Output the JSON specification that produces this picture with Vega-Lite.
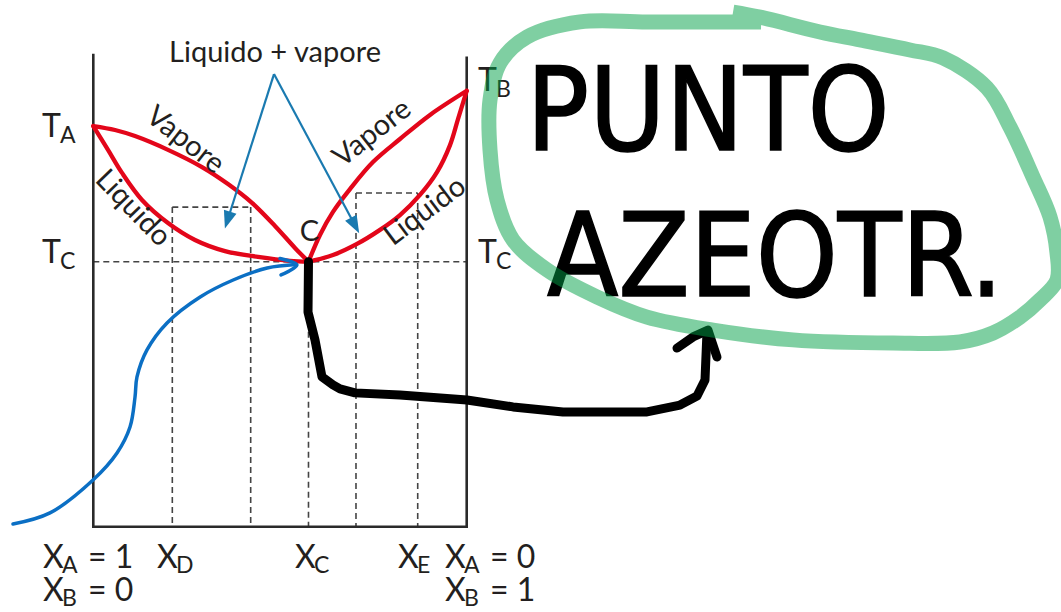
{
  "$schema": "https://vega.github.io/schema/vega-lite/v6.json",
  "width": 1061,
  "height": 612,
  "padding": 0,
  "autosize": {"type": "none"},
  "background": "white",
  "config": {"view": {"stroke": null}},
  "encoding": {
    "x": {"field": "xB", "type": "quantitative", "scale": {"domain": [-0.24987, 2.59159], "nice": false, "zero": false}, "axis": null},
    "y": {"field": "T", "type": "quantitative", "scale": {"domain": [-32.189, 198.755], "nice": false, "zero": false}, "axis": null}
  },
  "layer": [
    {
      "description": "dashed guide lines: T_C isotherm, tie lines and composition drops",
      "data": {"values": [
        {"xB": 0, "T": 100, "xB2": 1, "T2": 100},
        {"xB": 0.2116, "T": 120.6, "xB2": 0.4215, "T2": 120.6},
        {"xB": 0.7035, "T": 125.9, "xB2": 0.8688, "T2": 125.9},
        {"xB": 0.2116, "T": 120.6, "xB2": 0.2116, "T2": 0},
        {"xB": 0.4215, "T": 120.6, "xB2": 0.4215, "T2": 0},
        {"xB": 0.5763, "T": 100, "xB2": 0.5763, "T2": 0},
        {"xB": 0.7035, "T": 125.9, "xB2": 0.7035, "T2": 0},
        {"xB": 0.8688, "T": 125.9, "xB2": 0.8688, "T2": 0}
      ]},
      "mark": {"type": "rule", "color": "#444444", "strokeWidth": 1.6, "strokeDash": [6, 4]},
      "encoding": {"x2": {"field": "xB2"}, "y2": {"field": "T2"}}
    },
    {
      "description": "diagram frame",
      "data": {"values": [
        {"xB": 0, "T": 178, "xB2": 0, "T2": 0},
        {"xB": 1, "T": 176.9, "xB2": 1, "T2": 0},
        {"xB": 0, "T": 0, "xB2": 1, "T2": 0}
      ]},
      "mark": {"type": "rule", "color": "#2a2a2a", "strokeWidth": 2.6, "strokeCap": "square"},
      "encoding": {"x2": {"field": "xB2"}, "y2": {"field": "T2"}}
    },
    {
      "description": "liquid and vapour boundaries of the two lenses",
      "data": {"values": [
        {"curve": "vapA", "i": 0, "xB": 0, "T": 151.2},
        {"curve": "vapA", "i": 1, "xB": 0.0581, "T": 149.7},
        {"curve": "vapA", "i": 2, "xB": 0.1117, "T": 147.4},
        {"curve": "vapA", "i": 3, "xB": 0.2001, "T": 142.2},
        {"curve": "vapA", "i": 4, "xB": 0.2911, "T": 135.7},
        {"curve": "vapA", "i": 5, "xB": 0.3607, "T": 129.3},
        {"curve": "vapA", "i": 6, "xB": 0.425, "T": 122.2},
        {"curve": "vapA", "i": 7, "xB": 0.4866, "T": 113.5},
        {"curve": "vapA", "i": 8, "xB": 0.5401, "T": 105.2},
        {"curve": "vapA", "i": 9, "xB": 0.5763, "T": 100},
        {"curve": "liqA", "i": 0, "xB": 0, "T": 151.2},
        {"curve": "liqA", "i": 1, "xB": 0.0394, "T": 142.2},
        {"curve": "liqA", "i": 2, "xB": 0.0769, "T": 133.5},
        {"curve": "liqA", "i": 3, "xB": 0.1304, "T": 123.3},
        {"curve": "liqA", "i": 4, "xB": 0.2001, "T": 114.6},
        {"curve": "liqA", "i": 5, "xB": 0.2724, "T": 108.2},
        {"curve": "liqA", "i": 6, "xB": 0.3527, "T": 104.0},
        {"curve": "liqA", "i": 7, "xB": 0.4411, "T": 101.8},
        {"curve": "liqA", "i": 8, "xB": 0.5268, "T": 100.3},
        {"curve": "liqA", "i": 9, "xB": 0.5763, "T": 100},
        {"curve": "vapB", "i": 0, "xB": 0.5763, "T": 100},
        {"curve": "vapB", "i": 1, "xB": 0.6071, "T": 110.1},
        {"curve": "vapB", "i": 2, "xB": 0.6419, "T": 118.8},
        {"curve": "vapB", "i": 3, "xB": 0.6874, "T": 127.4},
        {"curve": "vapB", "i": 4, "xB": 0.749, "T": 137.6},
        {"curve": "vapB", "i": 5, "xB": 0.8213, "T": 146.3},
        {"curve": "vapB", "i": 6, "xB": 0.9017, "T": 155.4},
        {"curve": "vapB", "i": 7, "xB": 1, "T": 164.5},
        {"curve": "liqB", "i": 0, "xB": 0.5763, "T": 100},
        {"curve": "liqB", "i": 1, "xB": 0.6419, "T": 102.5},
        {"curve": "liqB", "i": 2, "xB": 0.7062, "T": 106.7},
        {"curve": "liqB", "i": 3, "xB": 0.7678, "T": 112.0},
        {"curve": "liqB", "i": 4, "xB": 0.8214, "T": 117.6},
        {"curve": "liqB", "i": 5, "xB": 0.8749, "T": 125.2},
        {"curve": "liqB", "i": 6, "xB": 0.9205, "T": 133.8},
        {"curve": "liqB", "i": 7, "xB": 0.9553, "T": 144.0},
        {"curve": "liqB", "i": 8, "xB": 0.9767, "T": 153.8},
        {"curve": "liqB", "i": 9, "xB": 1, "T": 164.5}
      ]},
      "mark": {"type": "line", "color": "#e3061a", "strokeWidth": 4.3, "interpolate": "catmull-rom", "strokeCap": "round"},
      "encoding": {"detail": {"field": "curve"}, "order": {"field": "i", "type": "quantitative"}}
    },
    {
      "description": "blue S-shaped pointer to the azeotrope",
      "data": {"values": [
        {"seg": "s", "i": 0, "xB": -0.215, "T": 1.0},
        {"seg": "s", "i": 1, "xB": -0.116, "T": 5.2},
        {"seg": "s", "i": 2, "xB": -0.0008, "T": 17.6},
        {"seg": "s", "i": 3, "xB": 0.0635, "T": 27.8},
        {"seg": "s", "i": 4, "xB": 0.0983, "T": 37.6},
        {"seg": "s", "i": 5, "xB": 0.1117, "T": 48.9},
        {"seg": "s", "i": 6, "xB": 0.117, "T": 56.5},
        {"seg": "s", "i": 7, "xB": 0.1438, "T": 66.7},
        {"seg": "s", "i": 8, "xB": 0.1974, "T": 76.9},
        {"seg": "s", "i": 9, "xB": 0.2862, "T": 86.7},
        {"seg": "s", "i": 10, "xB": 0.3746, "T": 93.1},
        {"seg": "s", "i": 11, "xB": 0.4657, "T": 97.6},
        {"seg": "s", "i": 12, "xB": 0.5429, "T": 98.9},
        {"seg": "head", "i": 0, "xB": 0.5, "T": 101.2},
        {"seg": "head", "i": 1, "xB": 0.5453, "T": 98.8},
        {"seg": "head", "i": 2, "xB": 0.5027, "T": 95.0}
      ]},
      "mark": {"type": "line", "color": "#0b6fc4", "strokeWidth": 3.5, "interpolate": "catmull-rom", "strokeCap": "round", "strokeJoin": "round"},
      "encoding": {"detail": {"field": "seg"}, "order": {"field": "i", "type": "quantitative"}}
    },
    {
      "description": "shafts of the two-phase region pointers",
      "data": {"values": [
        {"xB": 0.4839, "T": 170.8, "xB2": 0.3613, "T2": 116.5},
        {"xB": 0.4839, "T": 170.8, "xB2": 0.6982, "T2": 114.4}
      ]},
      "mark": {"type": "rule", "color": "#1a7ab0", "strokeWidth": 2.2},
      "encoding": {"x2": {"field": "xB2"}, "y2": {"field": "T2"}}
    },
    {
      "description": "arrowheads of the two-phase region pointers",
      "data": {"values": [
        {"xB": 0.3613, "T": 116.5, "heading": 197.6},
        {"xB": 0.6982, "T": 114.4, "heading": 151.9}
      ]},
      "mark": {"type": "point", "shape": "M0,-1L0.6,0.6L-0.6,0.6Z", "size": 480, "filled": true, "color": "#1a7ab0", "opacity": 1},
      "encoding": {"angle": {"field": "heading", "type": "quantitative", "scale": null}}
    },
    {
      "description": "region captions",
      "data": {"values": [
        {"xB": 0.4866, "T": 175.4, "label": "Liquido + vapore"},
        {"xB": 0.5785, "T": 108.0, "label": "C"}
      ]},
      "mark": {"type": "text", "font": "Lato", "fontSize": 29, "fill": "#231f20", "align": "center", "baseline": "alphabetic"},
      "encoding": {"text": {"field": "label"}}
    },
    {
      "description": "curve names written along the boundaries",
      "data": {"values": [
        {"xB": 0.2461, "T": 145.9, "label": "Vapore", "slope": 38},
        {"xB": 0.1063, "T": 120.2, "label": "Liquido", "slope": 46},
        {"xB": 0.7464, "T": 148.5, "label": "Vapore", "slope": -38},
        {"xB": 0.8883, "T": 119.1, "label": "Liquido", "slope": -37}
      ]},
      "mark": {"type": "text", "font": "Lato", "fontSize": 29, "fill": "#231f20", "align": "center", "baseline": "middle"},
      "encoding": {"text": {"field": "label"}, "angle": {"field": "slope", "type": "quantitative", "scale": null}}
    },
    {
      "description": "temperature and composition labels: main letter",
      "data": {"name": "sym"},
      "mark": {"type": "text", "font": "Lato", "fontSize": 32, "fill": "#231f20", "align": "left", "baseline": "alphabetic"},
      "encoding": {"text": {"field": "main"}}
    },
    {
      "description": "temperature labels: subscript",
      "data": {"name": "sym"},
      "transform": [{"filter": "datum.main === 'T'"}],
      "mark": {"type": "text", "font": "Lato", "fontSize": 23, "fill": "#231f20", "align": "left", "baseline": "alphabetic", "dx": 18, "dy": 6},
      "encoding": {"text": {"field": "sub"}}
    },
    {
      "description": "composition labels: subscript",
      "data": {"name": "sym"},
      "transform": [{"filter": "datum.main === 'X'"}],
      "mark": {"type": "text", "font": "Lato", "fontSize": 23, "fill": "#231f20", "align": "left", "baseline": "alphabetic", "dx": 19, "dy": 5},
      "encoding": {"text": {"field": "sub"}}
    },
    {
      "description": "composition labels: value",
      "data": {"name": "sym"},
      "transform": [{"filter": "datum.rest !== ''"}],
      "mark": {"type": "text", "font": "Lato", "fontSize": 32, "fill": "#231f20", "align": "left", "baseline": "alphabetic", "dx": 45},
      "encoding": {"text": {"field": "rest"}}
    },
    {
      "description": "hand-drawn pointer from the azeotrope to the note",
      "data": {"values": [
        {"seg": "path", "i": 0, "xB": 0.5763, "T": 100},
        {"seg": "path", "i": 1, "xB": 0.575, "T": 81.0},
        {"seg": "path", "i": 2, "xB": 0.5937, "T": 70.5},
        {"seg": "path", "i": 3, "xB": 0.6125, "T": 56.5},
        {"seg": "path", "i": 4, "xB": 0.6419, "T": 53.5},
        {"seg": "path", "i": 5, "xB": 0.6607, "T": 52.0},
        {"seg": "path", "i": 6, "xB": 0.7009, "T": 50.5},
        {"seg": "path", "i": 7, "xB": 0.8214, "T": 49.7},
        {"seg": "path", "i": 8, "xB": 1.0008, "T": 47.8},
        {"seg": "path", "i": 9, "xB": 1.124, "T": 45.2},
        {"seg": "path", "i": 10, "xB": 1.2579, "T": 43.3},
        {"seg": "path", "i": 11, "xB": 1.4829, "T": 43.3},
        {"seg": "path", "i": 12, "xB": 1.5712, "T": 45.9},
        {"seg": "path", "i": 13, "xB": 1.6168, "T": 49.3},
        {"seg": "path", "i": 14, "xB": 1.6382, "T": 55.4},
        {"seg": "path", "i": 15, "xB": 1.6435, "T": 73.5},
        {"seg": "tip", "i": 0, "xB": 1.5632, "T": 67.4},
        {"seg": "tip", "i": 1, "xB": 1.6061, "T": 71.6},
        {"seg": "tip", "i": 2, "xB": 1.6462, "T": 74.2},
        {"seg": "tip", "i": 3, "xB": 1.6703, "T": 64.0}
      ]},
      "mark": {"type": "line", "color": "#000000", "strokeWidth": 9, "strokeCap": "round", "strokeJoin": "round"},
      "encoding": {"detail": {"field": "seg"}, "order": {"field": "i", "type": "quantitative"}}
    },
    {
      "description": "handwritten note",
      "data": {"values": [
        {"xB": 1.6462, "T": 142.2, "word": "PUNTO"},
        {"xB": 1.8256, "T": 87.1, "word": "AZEOTR."}
      ]},
      "mark": {"type": "text", "font": "DejaVu Sans Condensed, Liberation Sans Narrow, DejaVu Sans", "fontSize": 116, "fill": "#000000", "stroke": "#000000", "strokeWidth": 1.5, "align": "center", "baseline": "alphabetic"},
      "encoding": {"text": {"field": "word"}}
    },
    {
      "description": "highlighter loop around the note",
      "data": {"values": [
        {"i": 0, "xB": 1.7132, "T": 194.2},
        {"i": 1, "xB": 1.7855, "T": 192.3},
        {"i": 2, "xB": 1.9462, "T": 186.7},
        {"i": 3, "xB": 2.0533, "T": 183.7},
        {"i": 4, "xB": 2.1872, "T": 179.9},
        {"i": 5, "xB": 2.2756, "T": 176.9},
        {"i": 6, "xB": 2.3934, "T": 165.6},
        {"i": 7, "xB": 2.455, "T": 150.8},
        {"i": 8, "xB": 2.5166, "T": 131.96},
        {"i": 9, "xB": 2.5621, "T": 116.9},
        {"i": 10, "xB": 2.5809, "T": 103.3},
        {"i": 11, "xB": 2.5809, "T": 93.1},
        {"i": 12, "xB": 2.5353, "T": 85.6},
        {"i": 13, "xB": 2.4818, "T": 79.1},
        {"i": 14, "xB": 2.4095, "T": 73.1},
        {"i": 15, "xB": 2.3211, "T": 69.7},
        {"i": 16, "xB": 2.1417, "T": 69.3},
        {"i": 17, "xB": 1.8739, "T": 70.5},
        {"i": 18, "xB": 1.6596, "T": 74.2},
        {"i": 19, "xB": 1.4829, "T": 79.1},
        {"i": 20, "xB": 1.349, "T": 86.7},
        {"i": 21, "xB": 1.2151, "T": 96.9},
        {"i": 22, "xB": 1.124, "T": 108.2},
        {"i": 23, "xB": 1.0812, "T": 123.3},
        {"i": 24, "xB": 1.0624, "T": 142.2},
        {"i": 25, "xB": 1.0624, "T": 161.0},
        {"i": 26, "xB": 1.0892, "T": 175.0},
        {"i": 27, "xB": 1.1615, "T": 184.8},
        {"i": 28, "xB": 1.3034, "T": 190.5},
        {"i": 29, "xB": 1.4829, "T": 190.5},
        {"i": 30, "xB": 1.7882, "T": 190.5}
      ]},
      "mark": {"type": "line", "color": "#00a046", "opacity": 0.5, "strokeWidth": 15, "interpolate": "catmull-rom", "strokeCap": "butt", "strokeJoin": "round"},
      "encoding": {"order": {"field": "i", "type": "quantitative"}}
    }
  ],
  "datasets": {
    "sym": [
      {"xB": -0.1374, "T": 147.1, "main": "T", "sub": "A", "rest": ""},
      {"xB": -0.1374, "T": 99.5, "main": "T", "sub": "C", "rest": ""},
      {"xB": 1.0302, "T": 164.4, "main": "T", "sub": "B", "rest": ""},
      {"xB": 1.0302, "T": 99.5, "main": "T", "sub": "C", "rest": ""},
      {"xB": -0.1347, "T": -15.6, "main": "X", "sub": "A", "rest": "= 1"},
      {"xB": -0.1347, "T": -28.2, "main": "X", "sub": "B", "rest": "= 0"},
      {"xB": 0.1706, "T": -15.6, "main": "X", "sub": "D", "rest": ""},
      {"xB": 0.5402, "T": -15.6, "main": "X", "sub": "C", "rest": ""},
      {"xB": 0.816, "T": -15.6, "main": "X", "sub": "E", "rest": ""},
      {"xB": 0.9419, "T": -15.6, "main": "X", "sub": "A", "rest": "= 0"},
      {"xB": 0.9419, "T": -28.2, "main": "X", "sub": "B", "rest": "= 1"}
    ]
  }
}
